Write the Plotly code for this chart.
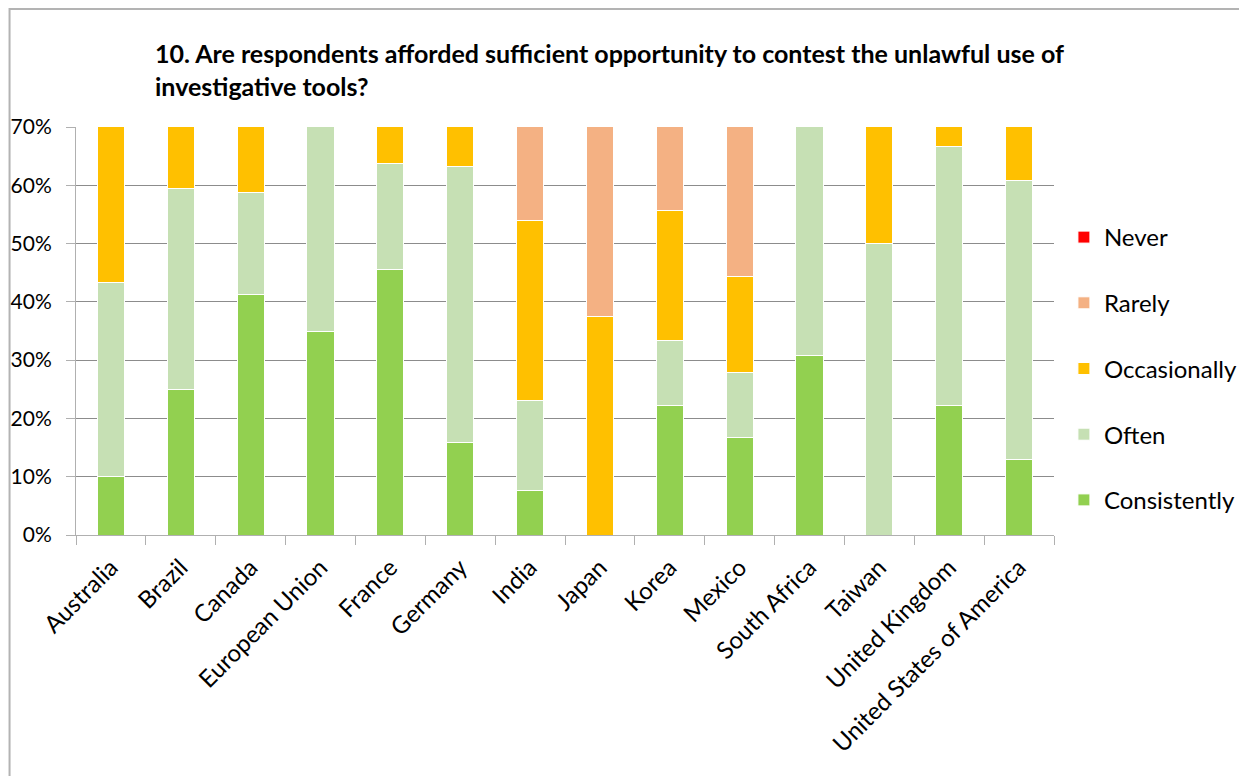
import plotly.graph_objects as go

countries = ["Australia", "Brazil", "Canada", "European Union", "France", "Germany",
             "India", "Japan", "Korea", "Mexico", "South Africa", "Taiwan",
             "United Kingdom", "United States of America"]
consistently = [10.0, 25.0, 41.2, 35.0, 45.5, 15.8, 7.7, 0.0, 22.2, 16.7, 30.8, 0.0, 22.2, 13.0]
often = [33.3, 34.4, 17.6, 65.0, 18.2, 47.4, 15.4, 0.0, 11.1, 11.1, 69.2, 50.0, 44.5, 47.8]
occasionally = [56.7, 40.6, 41.2, 0.0, 36.3, 36.8, 30.8, 37.5, 22.3, 16.6, 0.0, 50.0, 33.3, 39.2]
rarely = [0.0, 0.0, 0.0, 0.0, 0.0, 0.0, 46.1, 62.5, 44.4, 55.6, 0.0, 0.0, 0.0, 0.0]
never = [0.0] * 14

series = [
    ("Consistently", consistently, "#92d050"),
    ("Often", often, "#c6e0b4"),
    ("Occasionally", occasionally, "#ffc000"),
    ("Rarely", rarely, "#f4b183"),
    ("Never", never, "#ff0000"),
]

FONT = "Lato"
OFF = 8  # page body margin offset

fig = go.Figure()
n = len(series)
for i, (name, vals, col) in enumerate(series):
    fig.add_trace(go.Bar(
        x=countries, y=vals, name=name, legendgroup=name,
        legendrank=n - i,
        marker=dict(color=col, line=dict(color="white", width=1)),
        width=0.39,
    ))

W, H = 1247, 776
L, R, T, B = 76 - OFF, 1062 - OFF, 127 - OFF, 535 - OFF
pw, ph = R - L, B - T

fig.update_layout(
    width=W, height=H,
    barmode="stack",
    paper_bgcolor="white", plot_bgcolor="white",
    margin=dict(l=L, r=W - R, t=T, b=H - B, pad=0),
    font=dict(family=FONT, size=24, color="black"),
    title=dict(
        text="<b>10. Are respondents afforded sufficient opportunity to contest the unlawful use of<br>investigative tools?</b>",
        x=(155 - OFF) / W, xanchor="left", xref="container",
        y=1 - (63 - OFF) / H, yanchor="top", yref="container",
        font=dict(family=FONT, size=25, color="black"),
    ),
    legend=dict(
        x=(1072 - OFF - L) / pw, xanchor="left",
        y=(B - (215 - OFF)) / ph, yanchor="top",
        traceorder="grouped",
        tracegroupgap=31.5,
        font=dict(family=FONT, size=24),
        itemwidth=30,
        bgcolor="rgba(0,0,0,0)",
    ),
    showlegend=True,
)

fig.update_yaxes(
    range=[0, 70], dtick=10, ticksuffix="%",
    showgrid=True, gridcolor="#8c8c8c", gridwidth=1,
    showline=True, linecolor="#b0b0b0", linewidth=1,
    ticks="outside", ticklen=9, tickcolor="#b0b0b0",
    tickfont=dict(family=FONT, size=21), zeroline=False,
    ticklabelstandoff=10,
    automargin=False,
)
fig.update_xaxes(
    tickangle=-45, tickson="boundaries",
    showline=True, linecolor="#b0b0b0", linewidth=1,
    ticks="outside", ticklen=9, tickcolor="#b0b0b0",
    tickfont=dict(family=FONT, size=24),
    ticklabelstandoff=8,
    automargin=False,
)

fig.add_shape(type="rect", xref="paper", yref="paper",
              x0=(1 - L) / pw, x1=(1270 - L) / pw,
              y0=(B - 800) / ph, y1=(B - 1) / ph,
              line=dict(color="#b3b3b3", width=2), fillcolor="rgba(0,0,0,0)",
              layer="below")

fig.write_html("out.html")
